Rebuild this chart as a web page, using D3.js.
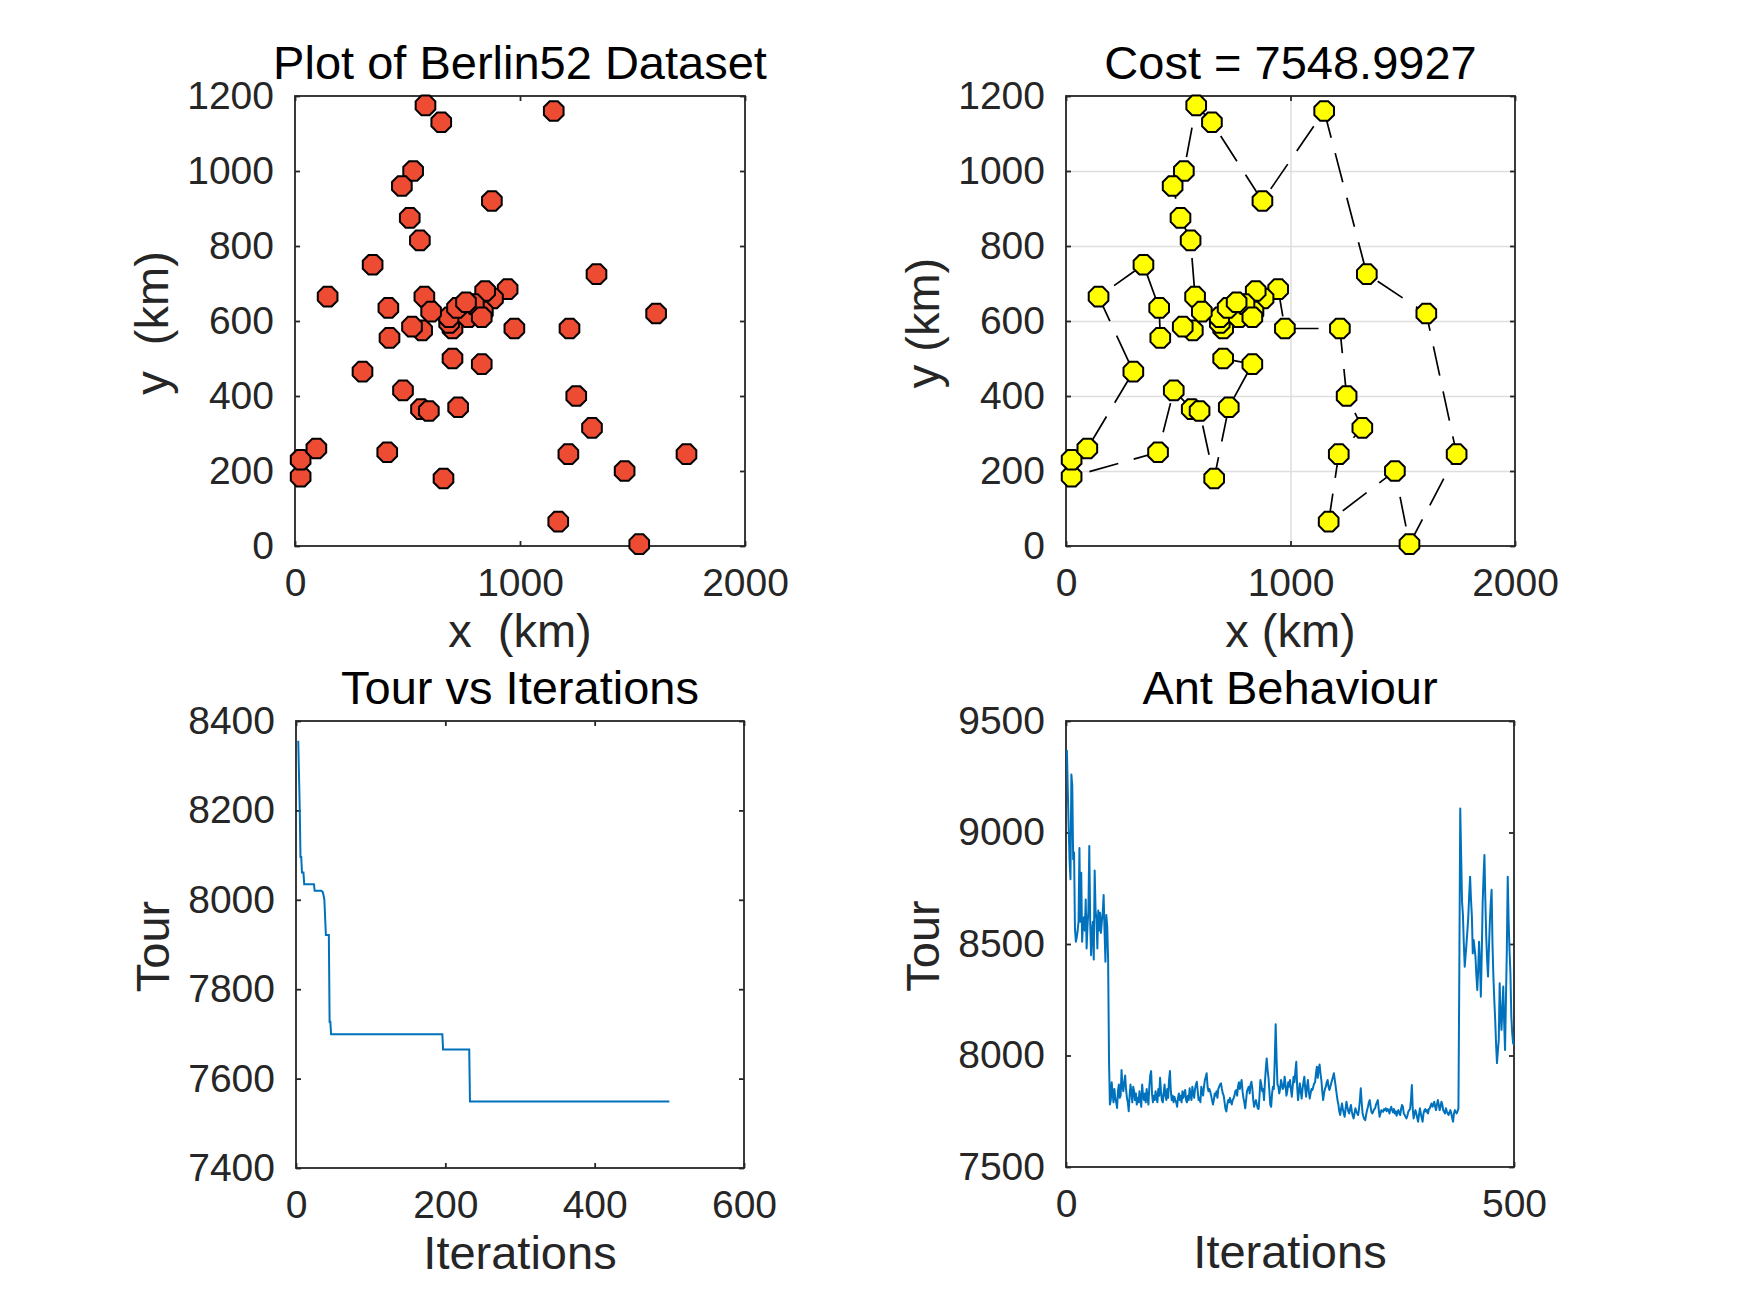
<!DOCTYPE html>
<html>
<head>
<meta charset="utf-8">
<script src="https://cdn.jsdelivr.net/npm/d3@7"></script>
<style>
  body { margin: 0; background: #fff; }
  svg text { font-family: "Liberation Sans", Arial, Helvetica, sans-serif; }
</style>
</head>
<body>
<svg id="fig" width="1750" height="1313"></svg>
<script>
// Berlin52 city coordinates (km)
const cityX = [565, 25, 345, 945, 845, 880, 25, 525, 580, 650, 1605, 1220, 1465, 1530, 845, 725, 145, 415, 510, 560,
  300, 520, 480, 835, 975, 1215, 1320, 1250, 660, 410, 420, 575, 1150, 700, 685, 685, 770, 795, 720, 760,
  475, 95, 875, 700, 555, 830, 1170, 830, 605, 595, 1340, 1740];
const cityY = [575, 185, 750, 685, 655, 660, 230, 1000, 1175, 1130, 620, 580, 200, 5, 680, 370, 665, 635, 875, 365,
  465, 585, 415, 625, 580, 245, 315, 400, 180, 250, 555, 665, 1160, 580, 595, 610, 610, 645, 635, 650,
  960, 260, 920, 500, 815, 485, 65, 610, 625, 360, 725, 245];

// best tour found (city numbers, 1-based)
const tour = [1, 49, 32, 45, 19, 41, 8, 9, 10, 43, 33, 51, 11, 52, 14, 13, 47, 26, 27, 28, 12, 25, 4, 6, 15, 5,
  24, 48, 38, 37, 40, 39, 36, 35, 34, 44, 46, 16, 29, 50, 20, 23, 30, 2, 7, 42, 21, 17, 3, 18, 31, 22, 1];
const tourCost = "7548.9927";

// best tour length so far
const bestIter = [3, 5, 6, 7, 8, 10, 11, 24, 25, 34, 36, 37, 38, 40, 44, 45, 46, 47, 196, 197, 232, 233, 500];
const bestCost = [8356, 8205, 8096, 8096, 8061, 8061, 8035, 8035, 8020, 8020, 8017, 8009, 8000, 7921, 7921,
  7727, 7727, 7699, 7699, 7665, 7665, 7548.99, 7548.99];

// tour length of each iteration (1..500)
const antTour = [
  9370, 9190, 9020, 8870, 8790, 9260, 9210, 8880, 8910, 8570,
  8510, 8530, 8560, 8600, 8930, 8600, 8820, 8510, 8590, 8620,
  8560, 8700, 8480, 8580, 8650, 8940, 8600, 8450, 8560, 8600,
  8430, 8830, 8650, 8610, 8480, 8650, 8560, 8640, 8550, 8600,
  8640, 8720, 8560, 8420, 8630, 8580, 8430, 7980, 7780, 7800,
  7880, 7830, 7790, 7850, 7810, 7790, 7765, 7840, 7870, 7810,
  7820, 7935, 7860, 7840, 7880, 7910, 7850, 7810, 7790, 7750,
  7820, 7870, 7830, 7790, 7860, 7840, 7800, 7830, 7780, 7810,
  7790, 7840, 7800, 7770, 7870, 7820, 7800, 7830, 7790, 7850,
  7810, 7780, 7860, 7910, 7930, 7830, 7790, 7820, 7800, 7840,
  7810, 7790, 7850, 7820, 7900, 7840, 7800, 7790, 7830, 7870,
  7820, 7800, 7850, 7810, 7890, 7930, 7840, 7800, 7820, 7790,
  7815, 7800, 7790, 7770, 7810, 7830, 7800, 7820, 7790, 7840,
  7810, 7830, 7845, 7800, 7790, 7820, 7800, 7853, 7820, 7800,
  7860, 7830, 7810, 7850, 7870, 7882, 7840, 7800, 7810, 7790,
  7860, 7840, 7820, 7860, 7890, 7905, 7920, 7860, 7840, 7850,
  7837, 7820, 7800, 7780, 7800, 7830, 7820, 7840, 7810, 7850,
  7860, 7870, 7875, 7850, 7830, 7820, 7790, 7760, 7749, 7780,
  7800, 7790, 7810, 7793, 7780, 7800, 7807, 7820, 7840, 7845,
  7820, 7860, 7880, 7850, 7870, 7890, 7840, 7810, 7790, 7763,
  7800, 7840, 7850, 7860, 7830, 7870, 7882, 7850, 7800, 7770,
  7790, 7800, 7780, 7763, 7760, 7820, 7890, 7870, 7840, 7850,
  7800, 7880, 7940, 7987, 7935, 7900, 7840, 7780, 7770, 7830,
  7860, 7850, 7980, 8140, 7990, 7870, 7860, 7830, 7850, 7890,
  7870, 7850, 7860, 7905, 7870, 7820, 7840, 7880, 7860, 7890,
  7850, 7815, 7860, 7905, 7880, 7930, 7972, 7860, 7800, 7840,
  7875, 7840, 7807, 7850, 7880, 7905, 7850, 7815, 7860, 7890,
  7840, 7807, 7830, 7850, 7845, 7860, 7875, 7880, 7920, 7950,
  7900, 7940, 7960, 7920, 7890, 7840, 7800, 7830, 7850, 7860,
  7880, 7890, 7860, 7845, 7860, 7875, 7890, 7905, 7920, 7890,
  7860, 7830, 7800, 7780, 7750, 7733, 7760, 7785, 7760, 7740,
  7725, 7760, 7793, 7770, 7750, 7740, 7760, 7778, 7750, 7730,
  7718, 7740, 7763, 7750, 7740, 7733, 7760, 7800, 7853, 7790,
  7740, 7725, 7715, 7710, 7735, 7755, 7770, 7790, 7800, 7770,
  7745, 7740, 7750, 7760, 7763, 7780, 7790, 7800, 7760, 7725,
  7740, 7755, 7750, 7748, 7760, 7755, 7763, 7750, 7760, 7755,
  7740, 7760, 7770, 7755, 7745, 7760, 7740, 7750, 7730, 7748,
  7755, 7740, 7733, 7760, 7778, 7770, 7740, 7733, 7725, 7718,
  7730, 7748, 7755, 7760, 7800, 7868, 7760, 7718, 7740, 7755,
  7740, 7720, 7703, 7735, 7763, 7740, 7720, 7703, 7740, 7755,
  7760, 7748, 7755, 7740, 7760, 7763, 7775, 7785, 7770, 7778,
  7793, 7770, 7755, 7780, 7800, 7780, 7755, 7770, 7793, 7780,
  7755, 7748, 7740, 7763, 7750, 7740, 7733, 7745, 7755, 7740,
  7720, 7703, 7740, 7755, 7748, 7740, 7750, 7763, 8400, 9108,
  8900, 8690, 8630, 8500, 8398, 8450, 8503, 8560, 8623, 8720,
  8802, 8700, 8623, 8458, 8518, 8480, 8443, 8360, 8294, 8380,
  8510, 8420, 8264, 8450, 8682, 8800, 8899, 8700, 8533, 8430,
  8354, 8480, 8593, 8680, 8743, 8500, 8354, 8250, 8160, 8050,
  7966, 8020, 8070, 8324, 8200, 8115, 8200, 8309, 8150, 8025,
  8250, 8473, 8802, 8600, 8473, 8369, 8175, 8100, 8055, 8047
];

// axis tick values
const kmTicksX = [0, 1000, 2000];
const kmTicksY = [0, 200, 400, 600, 800, 1000, 1200];
const bestTicksX = [0, 200, 400, 600];
const bestTicksY = [7400, 7600, 7800, 8000, 8200, 8400];
const antTicksX = [0, 500];
const antTicksY = [7500, 8000, 8500, 9000, 9500];

const axColor = "#262626";
const lineBlue = "#0072bd";
const tickFont = 39;
const labelFont = 47;

const svg = d3.select("#fig");
svg.append("rect").attr("width", 1750).attr("height", 1313).attr("fill", "#fff");

// octagon marker, like MATLAB's rendered 'o'
const octagon = {
  draw(ctx, size) {
    const r = Math.sqrt(size / (2 * Math.SQRT2));
    for (let k = 0; k < 8; k++) {
      const a = Math.PI / 8 + k * Math.PI / 4;
      const px = r * Math.cos(a), py = r * Math.sin(a);
      if (k === 0) ctx.moveTo(px, py); else ctx.lineTo(px, py);
    }
    ctx.closePath();
  }
};

function makeAxes(box, xDom, yDom, xTicks, yTicks, grid) {
  const x = d3.scaleLinear().domain(xDom).range([box.left, box.right]);
  const y = d3.scaleLinear().domain(yDom).range([box.bottom, box.top]);
  const g = svg.append("g");

  if (grid) {
    const gx = g.append("g")
      .attr("transform", "translate(0," + box.bottom + ")")
      .call(d3.axisBottom(x).tickValues(xTicks.slice(1, -1)).tickSize(-(box.bottom - box.top)).tickFormat(""));
    const gy = g.append("g")
      .attr("transform", "translate(" + box.left + ",0)")
      .call(d3.axisLeft(y).tickValues(yTicks.slice(1, -1)).tickSize(-(box.right - box.left)).tickFormat(""));
    [gx, gy].forEach((s) => {
      s.select(".domain").remove();
      s.selectAll("line").attr("stroke", "#dedede").attr("stroke-width", 1.5);
    });
  }

  const styleAxis = (s) => {
    s.attr("color", axColor).attr("font-size", tickFont);
    s.select(".domain").remove();
    s.selectAll("line").attr("stroke-width", 1.8);
  };

  g.append("g")
    .attr("transform", "translate(0," + box.bottom + ")")
    .call(d3.axisBottom(x).tickValues(xTicks).tickSize(-5).tickSizeOuter(0).tickPadding(22).tickFormat(d3.format("d")))
    .call(styleAxis);
  g.append("g")
    .attr("transform", "translate(0," + box.top + ")")
    .call(d3.axisTop(x).tickValues(xTicks).tickSize(-5).tickSizeOuter(0).tickFormat(""))
    .call(styleAxis);
  g.append("g")
    .attr("transform", "translate(" + box.left + ",0)")
    .call(d3.axisLeft(y).tickValues(yTicks).tickSize(-5).tickSizeOuter(0).tickPadding(21).tickFormat(d3.format("d")))
    .call(styleAxis);
  g.append("g")
    .attr("transform", "translate(" + box.right + ",0)")
    .call(d3.axisRight(y).tickValues(yTicks).tickSize(-5).tickSizeOuter(0).tickFormat(""))
    .call(styleAxis);

  g.append("rect")
    .attr("x", box.left).attr("y", box.top)
    .attr("width", box.right - box.left).attr("height", box.bottom - box.top)
    .attr("fill", "none").attr("stroke", axColor).attr("stroke-width", 1.8);

  return { x, y, g };
}

function addText(box, title, xlab, ylab) {
  const cx = (box.left + box.right) / 2;
  const cy = (box.top + box.bottom) / 2;
  svg.append("text").attr("x", cx).attr("y", box.top - 17)
    .attr("text-anchor", "middle").attr("font-size", labelFont).attr("fill", "#000")
    .style("white-space", "pre").text(title);
  svg.append("text").attr("x", cx).attr("y", box.bottom + 101)
    .attr("text-anchor", "middle").attr("font-size", labelFont).attr("fill", axColor)
    .style("white-space", "pre").text(xlab);
  svg.append("text")
    .attr("transform", "translate(" + (box.left - 127) + "," + (cy + 2) + ") rotate(-90)")
    .attr("text-anchor", "middle").attr("font-size", labelFont).attr("fill", axColor)
    .style("white-space", "pre").text(ylab);
}

const boxTL = { left: 295, right: 745, top: 96, bottom: 546 };
const boxTR = { left: 1066, right: 1515, top: 96, bottom: 546 };
const boxBL = { left: 296, right: 744, top: 721, bottom: 1168 };
const boxBR = { left: 1066, right: 1514, top: 721, bottom: 1167 };

const cities = d3.range(cityX.length);
const marker = d3.symbol().type(octagon).size(320);

// 1. dataset scatter
const a1 = makeAxes(boxTL, [0, 2000], [0, 1200], kmTicksX, kmTicksY, false);
a1.g.append("g").selectAll("path").data(cities).join("path")
  .attr("transform", (i) => "translate(" + a1.x(cityX[i]) + "," + a1.y(cityY[i]) + ")")
  .attr("d", marker)
  .attr("fill", "#ee4b33").attr("stroke", "#000").attr("stroke-width", 2);
addText(boxTL, "Plot of Berlin52 Dataset", "x  (km)", "y  (km)");

// 2. best tour
const a2 = makeAxes(boxTR, [0, 2000], [0, 1200], kmTicksX, kmTicksY, true);
a2.g.append("path")
  .datum(tour)
  .attr("d", d3.line().x((c) => a2.x(cityX[c - 1])).y((c) => a2.y(cityY[c - 1])))
  .attr("fill", "none").attr("stroke", "#000").attr("stroke-width", 1.7)
  .attr("stroke-dasharray", "30,16");
a2.g.append("g").selectAll("path").data(cities).join("path")
  .attr("transform", (i) => "translate(" + a2.x(cityX[i]) + "," + a2.y(cityY[i]) + ")")
  .attr("d", marker)
  .attr("fill", "#ffff00").attr("stroke", "#000").attr("stroke-width", 2);
addText(boxTR, "Cost = " + tourCost, "x (km)", "y (km)");

// 3. tour vs iterations
const a3 = makeAxes(boxBL, [0, 600], [7400, 8400], bestTicksX, bestTicksY, false);
a3.g.append("path")
  .datum(d3.range(bestIter.length))
  .attr("d", d3.line().x((i) => a3.x(bestIter[i])).y((i) => a3.y(bestCost[i])))
  .attr("fill", "none").attr("stroke", lineBlue).attr("stroke-width", 2);
addText(boxBL, "Tour vs Iterations", "Iterations", "Tour");

// 4. ant behaviour
const a4 = makeAxes(boxBR, [0, 500], [7500, 9500], antTicksX, antTicksY, false);
a4.g.append("path")
  .datum(antTour)
  .attr("d", d3.line().x((d, i) => a4.x(i + 1)).y((d) => a4.y(d)))
  .attr("fill", "none").attr("stroke", lineBlue).attr("stroke-width", 2)
  .attr("stroke-linejoin", "round");
addText(boxBR, "Ant Behaviour", "Iterations", "Tour");
</script>
</body>
</html>
